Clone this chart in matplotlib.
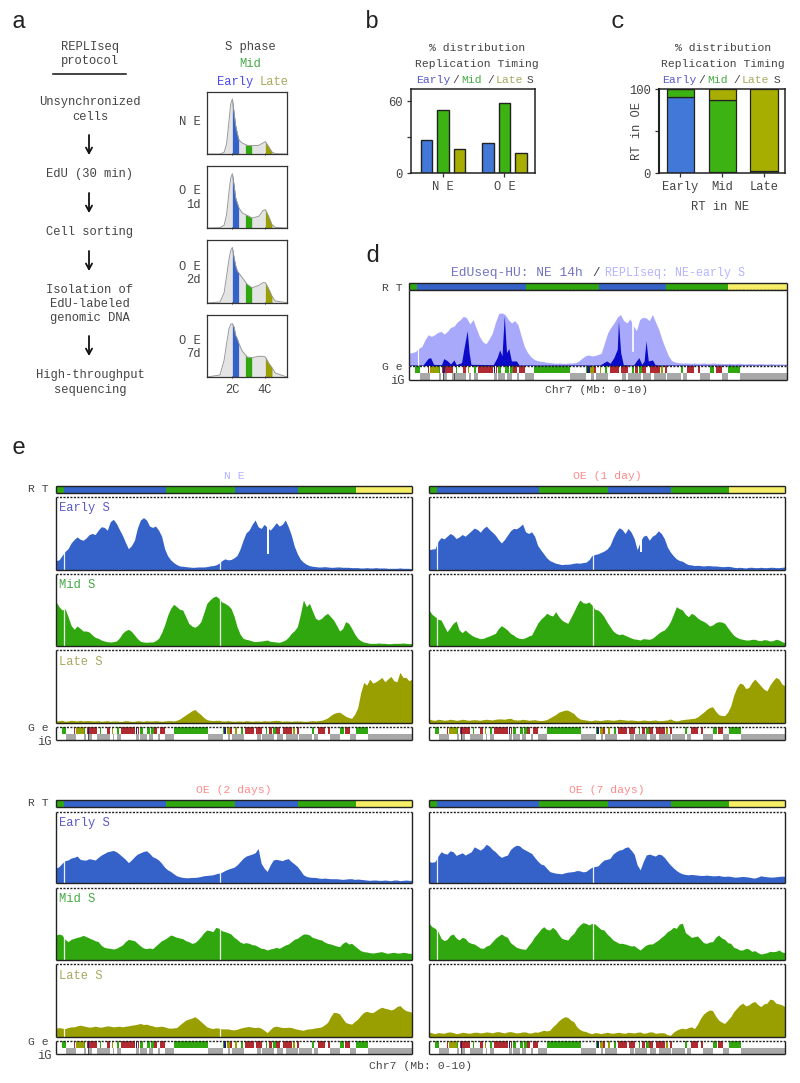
import numpy as np
import matplotlib
matplotlib.use("Agg")
import matplotlib.pyplot as plt

plt.rcParams['font.family'] = ['Liberation Mono', 'DejaVu Sans Mono']

# ---------- colours ----------
BLUE, GREEN, OLIVE, YELLOW, RED, GRAY = '#3562c8', '#30a70f', '#9a9f00', '#f5ee66', '#b02a30', '#a8a8a8'
TXT = '#444444'
T_EARLY, T_MID, T_LATE = '#5a5ac8', '#44aa44', '#a8a860'
T_NE, T_OE = '#b4b4ff', '#ff8a8a'

# ---------- panel a: DNA content histograms ----------
DNA = [0.47, 1.25, 1.5, 1.65, 1.8, 1.9, 2.0, 2.1, 2.2, 2.3, 2.4, 2.6, 2.9, 3.2, 3.6, 3.85, 4.0, 4.2, 4.4, 4.6, 5.31]
HIST_NE = [0, 0, 5, 30, 100, 150, 165, 125, 85, 62, 42, 33, 26, 25, 26, 33, 37, 22, 6, 1, 0]
HIST_OE1 = [0, 1, 8, 40, 110, 150, 163, 130, 90, 75, 60, 45, 38, 30, 35, 52, 55, 35, 10, 2, 0]
HIST_OE2 = [0, 3, 30, 80, 130, 155, 164, 135, 110, 95, 88, 75, 55, 45, 52, 60, 60, 42, 20, 6, 1]
HIST_OE7 = [0, 6, 50, 100, 145, 158, 160, 150, 125, 115, 100, 78, 60, 58, 62, 62, 60, 42, 28, 12, 0]
HIST_LABELS = [['N E'], ['O E', '1d'], ['O E', '2d'], ['O E', '7d']]
GATE_EARLY, GATE_MID, GATE_LATE = (2.0, 2.38), (2.79, 3.17), (4.0, 4.4)

# ---------- panel b / c ----------
B_GROUPS = ['N E', 'O E']
B_EARLY = [27.6, 25.4]
B_MID = [52.5, 58]
B_LATE = [19.6, 16.3]
C_CATS = ['Early', 'Mid', 'Late']
C_BLUE = [90.5, 1, 0]
C_GREEN = [9.5, 86, 2.5]
C_OLIVE = [0, 13, 97.5]

# ---------- tracks: samples over 0-10 Mb, and the samples read half-way between them ----------
NE_E = [28,43,63,90,91,95,108,118,126,143,138,103,63,88,148,148,126,118,63,30,16,11,9,8,9,10,13,20,33,31,43,88,118,148,123,126,128,130,148,103,48,23,13,10,9,9,8,9,8,7,7,6,6,7,6,5,5,6,5,4]
NE_E2 = [30,55,80,98,88,105,105,128,118,150,120,82,72,125,155,130,130,100,42,22,12,10,8,9,9,12,15,28,30,36,62,110,135,128,135,118,140,135,128,70,32,17,11,9,10,8,9,8,8,7,6,7,6,6,6,5,5,5,5]
NE_M = [133,108,88,50,53,45,33,23,15,12,15,38,50,33,14,11,12,23,63,113,118,108,68,56,73,128,146,143,128,113,58,23,18,13,15,18,13,11,18,38,58,138,128,83,83,98,78,45,73,53,23,12,8,8,8,7,8,8,8,8]
NE_M2 = [118,112,62,60,45,42,26,18,13,13,24,46,44,22,12,12,16,40,92,125,110,88,60,62,100,138,150,132,122,90,36,20,15,14,16,14,12,14,26,46,95,118,105,78,92,88,62,52,68,36,16,10,8,9,8,7,8,9,7]
NE_L = [6,8,6,7,8,7,6,7,6,5,6,5,6,5,6,7,6,6,6,7,8,18,30,40,25,10,7,8,6,6,6,5,6,6,5,6,7,7,6,5,6,5,6,6,8,15,28,32,20,14,45,120,130,122,135,130,125,150,135,130]
NE_L2 = [7,5,8,6,6,7,6,5,7,6,5,7,5,7,5,6,7,5,7,6,12,24,36,32,16,8,8,6,7,5,6,7,5,6,7,6,8,5,6,6,6,5,7,7,11,22,31,26,16,26,90,112,118,128,122,138,122,135,125]
O1_E = [60,63,96,100,103,98,100,116,120,123,120,103,80,103,123,128,113,113,73,48,28,20,16,17,20,20,23,43,48,56,73,113,120,123,93,83,103,100,116,93,53,33,26,16,13,13,13,12,11,10,10,7,7,8,7,8,7,8,7,9]
O1_E2 = [62,85,92,108,93,105,108,124,112,130,112,90,90,116,122,136,108,100,60,36,24,18,17,18,21,22,30,46,52,62,95,125,108,112,60,100,88,105,108,68,42,28,20,15,14,12,13,12,10,11,8,8,6,8,7,7,8,7,8]
O1_M = [108,88,78,43,68,48,48,33,25,23,30,38,61,48,33,23,25,33,68,88,93,103,78,68,103,138,128,123,108,88,58,38,36,28,21,18,21,23,38,48,73,118,108,88,93,78,68,63,73,68,43,26,20,18,20,16,18,16,18,10]
O1_M2 = [95,80,60,55,75,40,40,28,22,27,34,52,55,38,26,22,30,50,80,98,90,88,72,85,122,130,132,110,100,72,45,34,32,24,20,22,20,30,44,58,95,112,95,98,84,74,60,70,72,55,32,22,18,20,17,19,15,20,13]
O1_L = [12,8,10,9,10,9,10,9,9,10,10,11,12,13,10,9,10,9,8,8,15,25,35,38,28,12,9,7,8,9,9,9,10,8,8,7,8,8,7,8,12,6,10,12,14,25,40,48,25,22,50,105,115,105,130,110,95,125,130,110]
O1_L2 = [9,11,8,11,8,11,8,10,8,11,9,12,11,14,9,11,8,10,7,10,20,32,38,33,18,10,7,9,7,10,8,11,9,9,7,9,7,9,7,9,8,8,11,13,18,32,46,35,22,32,82,118,102,120,120,100,112,135,115]
O2_E = [45,60,70,78,72,70,72,78,90,97,95,80,62,80,92,98,80,70,48,35,22,17,16,17,20,23,25,30,38,45,55,75,85,92,60,35,70,70,72,65,50,25,18,17,14,14,13,12,12,13,12,10,8,9,8,8,9,7,9,8]
O2_E2 = [50,68,76,82,70,74,70,85,95,99,88,72,70,88,96,90,76,60,40,28,19,16,17,18,22,24,28,33,42,48,65,82,88,105,45,55,72,68,74,58,38,20,17,15,15,13,13,11,13,11,11,9,9,8,9,7,9,8,8]
O2_M = [75,75,55,65,70,70,62,55,38,35,35,45,62,58,42,34,34,50,62,75,68,64,55,52,70,90,85,95,85,78,62,50,50,45,35,30,35,35,45,55,65,78,75,65,60,50,45,40,55,50,35,25,22,22,25,20,23,21,22,20]
O2_M2 = [78,62,62,68,74,66,58,44,36,33,40,55,60,50,36,36,42,58,68,72,66,58,50,60,82,88,98,88,82,68,54,52,46,40,34,33,38,40,48,62,72,78,68,62,54,48,42,50,48,42,28,24,21,24,22,22,21,23,20]
O2_L = [26,26,28,30,35,31,30,30,31,32,31,30,33,36,40,38,33,31,30,26,28,43,53,60,46,30,25,26,24,22,23,28,31,28,26,13,30,30,28,28,23,20,24,27,30,43,73,68,43,38,53,73,73,78,88,83,83,93,78,73]
O2_L2 = [28,25,30,33,33,29,32,29,33,30,32,32,35,38,37,35,30,32,27,27,36,50,56,54,38,27,27,24,24,21,26,30,29,29,20,22,32,28,29,25,21,23,25,28,36,60,72,55,40,46,64,76,72,84,85,80,90,84,76]
O7_E = [65,65,95,88,95,88,85,95,105,107,112,95,78,85,110,113,100,90,67,55,35,30,28,33,35,37,35,48,52,70,75,95,102,110,88,40,85,85,88,78,55,38,28,25,25,23,24,22,23,20,20,18,20,18,15,22,19,18,20,20]
O7_E2 = [63,82,90,98,84,92,90,110,100,118,102,85,82,102,115,105,95,78,58,45,32,29,31,34,38,34,42,50,62,72,88,100,108,100,55,65,88,82,86,66,46,32,26,26,24,23,23,22,21,21,18,19,19,16,18,20,18,19,21]
O7_M = [110,95,65,62,78,60,65,50,42,35,45,65,78,68,45,35,32,55,80,100,90,90,65,60,80,105,110,110,100,90,70,55,50,45,43,30,45,48,60,75,90,95,110,75,70,62,50,55,75,62,50,35,30,33,28,18,22,25,30,22]
O7_M2 = [100,85,58,74,66,68,54,48,36,42,55,72,72,52,38,33,44,70,92,92,98,76,62,72,95,112,105,108,92,78,60,50,48,42,36,38,48,54,68,85,98,108,82,68,72,52,54,68,66,52,38,30,35,26,22,20,26,26,24]
O7_L = [15,10,12,14,13,11,13,12,14,13,14,15,14,15,14,13,15,12,14,20,20,38,55,58,45,22,16,10,12,12,12,13,12,14,12,15,12,15,12,12,5,20,26,28,25,55,75,78,50,40,60,85,100,95,105,90,100,110,98,90]
O7_L2 = [12,13,11,15,10,14,11,14,12,15,12,16,12,16,12,15,12,15,17,18,30,48,60,50,30,18,12,13,10,14,11,14,11,13,14,11,15,11,13,7,14,24,24,30,38,68,80,62,44,50,75,95,92,102,96,98,112,100,95]
D_LIGHT = [38,43,58,93,93,103,103,118,138,143,138,88,66,98,156,153,128,123,58,28,16,13,10,8,8,9,10,23,33,31,38,98,128,153,128,120,138,143,153,108,53,16,10,9,8,8,9,8,8,7,8,7,7,7,6,7,6,6,6,6]
D_LIGHT2 = [40,52,78,88,100,95,115,130,148,125,112,72,80,130,158,138,135,90,40,20,14,11,9,9,8,9,15,30,30,34,68,115,145,135,140,105,145,135,130,78,30,12,9,9,9,8,8,9,8,7,7,8,6,7,7,6,7,6,6]
D_DARK_X = [0,.37,.50,.57,.65,.86,.92,1.01,1.10,1.19,1.25,1.39,1.45,1.54,1.59,1.64,2.23,2.33,2.40,2.46,2.52,2.58,2.64,2.71,2.84,2.91,5.05,5.23,5.32,5.42,5.51,5.54,5.60,5.67,5.94,6.08,6.16,6.22,6.27,6.33,6.44,6.51,6.64,10]
D_DARK_Y = [3,3,22,25,5,4,22,16,6,18,4,10,50,105,40,5,4,25,48,30,150,40,52,15,15,3,3,15,8,25,50,135,40,4,3,25,5,15,75,15,18,4,3,2]

# RT domains (Mb) and genes / intergenic (Mb)
RT_EDGES = [0, 0.22, 3.09, 5.02, 6.79, 8.44, 10]
RT_COLORS = [GREEN, BLUE, GREEN, BLUE, GREEN, YELLOW]
G_GREEN = [(.17,.28),(.79,.82),(1.24,1.26),(1.71,1.76),(2.36,2.44),(2.55,2.64),(2.66,2.74),(3.32,4.27),(4.69,4.76),(5.19,5.25),(5.89,5.94),(6.09,6.17),(7.19,7.25),(7.97,8.08),(8.43,8.75)]
G_OLIVE = [(.56,.79),(1.56,1.59),(4.80,4.89),(5.04,5.08),(6.67,6.71)]
G_RED = [(.51,.53),(.88,1.16),(1.44,1.52),(1.82,2.23),(2.29,2.34),(2.74,2.85),(2.92,3.06),(4.89,4.95),(5.31,5.55),(5.61,5.79),(5.98,6.06),(6.17,6.28),(6.37,6.63),(6.77,6.83),(7.36,7.55),(7.64,7.71),(8.12,8.27)]
G_NAVY = [(.91,.94),(2.25,2.28),(4.72,4.78)]
IG_GRAY = [(.28,.56),(.80,.84),(.89,1.01),(1.14,1.52),(1.59,1.63),(1.72,1.82),(2.26,2.32),(2.36,2.55),(2.60,2.72),(2.87,2.91),(3.06,3.32),(4.27,4.69),(4.82,4.89),(4.95,5.27),(5.64,5.75),(5.79,6.13),(6.20,6.39),(6.47,6.81),(6.83,7.19),(7.25,7.36),(7.71,7.97),(8.27,8.43),(8.75,10)]
IG_DARK = [(.90,.93),(1.20,1.22)]

MB = np.linspace(0, 10, 119)


def weave(a, b):
    out = np.zeros(len(a) + len(b))
    out[0::2] = a
    out[1::2] = b
    return out


W, H = 800, 1083
fig = plt.figure(figsize=(W / 100, H / 100), dpi=100, facecolor='white')


def axpx(x0, y0, x1, y1, **kw):
    return fig.add_axes([x0 / W, 1 - y1 / H, (x1 - x0) / W, (y1 - y0) / H], **kw)


ov = axpx(0, 0, W, H, zorder=10)
ov.set_xlim(0, W)
ov.set_ylim(H, 0)
ov.axis('off')


def T(x, y, s, size=8.7, color=TXT, ha='center', **kw):
    ov.text(x, y, s, fontsize=size, color=color, ha=ha, va='center', **kw)


for s, x, y in [('a', 19, 22), ('b', 372, 22), ('c', 618, 22), ('d', 372, 255), ('e', 19, 447)]:
    T(x, y, s, size=17, color='#222222')

# ---------- panel a text ----------
for s, y in [('REPLIseq', 47), ('protocol', 61), ('Unsynchronized', 102), ('cells', 117), ('EdU (30 min)', 174),
             ('Cell sorting', 232), ('Isolation of', 290), ('EdU-labeled', 304), ('genomic DNA', 318),
             ('High-throughput', 375), ('sequencing', 390)]:
    T(90, y, s)
ov.plot([53, 126], [74, 74], color='#111111', lw=1.1)
for y0, y1 in [(135, 155), (193, 213), (251, 271), (336, 356)]:
    ov.annotate('', xy=(89, y1), xytext=(89, y0),
                arrowprops=dict(arrowstyle='->,head_width=0.22,head_length=0.4', color='#111111', lw=1.3,
                                shrinkA=0, shrinkB=0))
T(250, 47, 'S phase')
T(250, 64, 'Mid', color=T_MID)
T(235, 82, 'Early', color='#4a4af0')
T(274, 82, 'Late', color=T_LATE)

HIST_BOX = [(92, 154), (166, 228), (240, 303), (315, 377)]
HIST_Y = [HIST_NE, HIST_OE1, HIST_OE2, HIST_OE7]
LABEL_Y = [[122], [191, 205], [267, 280], [341, 354]]
for (y0, y1), vals, labs, ys in zip(HIST_BOX, HIST_Y, HIST_LABELS, LABEL_Y):
    a = axpx(207, y0, 287, y1)
    a.set_xlim(0.465, 5.31)
    a.set_ylim(0, 186)
    a.fill_between(DNA, vals, color='#e4e4e4', lw=0)
    for (g0, g1), c in zip((GATE_EARLY, GATE_MID, GATE_LATE), (BLUE, GREEN, OLIVE)):
        xx = np.linspace(g0, g1, 12)
        a.fill_between(xx, np.interp(xx, DNA, vals), color=c, lw=0)
    a.plot(DNA, vals, color='#999999', lw=0.7)
    a.set_yticks([])
    a.set_xticks([2, 4])
    a.set_xticklabels([])
    a.tick_params(axis='x', length=2, width=0.7, color='#333333', direction='inout')
    for sp in a.spines.values():
        sp.set_color('#333333')
        sp.set_linewidth(0.9)
    for s, y in zip(labs, ys):
        T(201, y, s, ha='right')
T(232, 390, '2C')
T(265, 390, '4C')


def title3(x_list, y):
    for (x, s, c) in x_list:
        T(x, y, s, size=8.2, color=c)


# ---------- panel b ----------
T(477, 48, '% distribution', size=8.2)
T(477, 64, 'Replication Timing', size=8.2)
title3([(433, 'Early', T_EARLY), (456, '/', TXT), (472, 'Mid', T_MID), (491, '/', TXT), (509, 'Late', T_LATE), (530, 'S', TXT)], 80)
b = axpx(411, 89, 535, 173)
b.set_xlim(-0.52, 1.497)
b.set_ylim(0, 70)
xg = np.arange(len(B_GROUPS))
for off, v, c in [(-0.27, B_EARLY, '#4278d8'), (0, B_MID, '#3cb312'), (0.27, B_LATE, '#a8ae00')]:
    b.bar(xg + off, v, width=0.19, color=c, edgecolor='#222222', linewidth=1.0)
b.set_yticks([0, 30, 60])
b.set_yticklabels(['0', '', '60'], fontsize=8.7, color=TXT)
b.set_xticks(xg)
b.set_xticklabels(B_GROUPS, fontsize=8.7, color=TXT)
b.tick_params(length=3, width=0.9, pad=3, color='#333333')
for sp in b.spines.values():
    sp.set_linewidth(1.1)
    sp.set_color('#222222')

# ---------- panel c ----------
T(723, 48, '% distribution', size=8.2)
T(723, 64, 'Replication Timing', size=8.2)
title3([(679, 'Early', T_EARLY), (702, '/', TXT), (718, 'Mid', T_MID), (737, '/', TXT), (755, 'Late', T_LATE), (777, 'S', TXT)], 80)
c = axpx(659, 89, 785, 173)
c.set_xlim(-0.512, 2.504)
c.set_ylim(0, 100)
xc = np.arange(len(C_CATS))
bot = np.zeros(3)
for v, col in [(C_BLUE, '#4278d8'), (C_GREEN, '#3cb312'), (C_OLIVE, '#a8ae00')]:
    c.bar(xc, v, bottom=bot, width=0.65, color=col, edgecolor='#222222', linewidth=0.9)
    bot = bot + np.array(v)
c.set_yticks([0, 50, 100])
c.set_yticklabels(['0', '', '100'], fontsize=8.7, color=TXT)
c.set_xticks(xc)
c.set_xticklabels(C_CATS, fontsize=8.7, color=TXT)
c.tick_params(length=3, width=0.9, pad=3, color='#333333')
for sp in c.spines.values():
    sp.set_linewidth(1.1)
    sp.set_color('#222222')
c.spines['left'].set_linewidth(1.5)
T(637, 131, 'RT in OE', rotation=90)
T(720, 207, 'RT in NE')


# ---------- tracks ----------
def frame(a, dashed_top=True, dashed_bottom=False):
    a.set_xticks([])
    a.set_yticks([])
    for sp in a.spines.values():
        sp.set_linewidth(1.0)
        sp.set_color('#222222')
        sp.set_capstyle('butt')
    if dashed_top:
        a.spines['top'].set_linestyle((0, (1.5, 1)))
    if dashed_bottom:
        a.spines['bottom'].set_linestyle((0, (1.5, 1)))


def rt_bar(x0, y0, x1, y1, dashed_bottom=False):
    a = axpx(x0, y0, x1, y1)
    a.set_xlim(0, 10)
    a.set_ylim(0, 1)
    for i, col in enumerate(RT_COLORS):
        a.barh(0.5, RT_EDGES[i + 1] - RT_EDGES[i], left=RT_EDGES[i], height=1, color=col, lw=0)
    frame(a, dashed_top=False, dashed_bottom=dashed_bottom)


def gene_track(x0, y0, x1, y1):
    a = axpx(x0, y0, x1, y1)
    a.set_xlim(0, 10)
    a.set_ylim(0, 2)
    for lst, col in [(G_GREEN, GREEN), (G_OLIVE, OLIVE), (G_RED, RED), (G_NAVY, '#20207a')]:
        a.broken_barh([(s, e - s) for s, e in lst], (1, 1), color=col, lw=0)
    a.broken_barh([(s, e - s) for s, e in IG_GRAY], (0, 1), color=GRAY, lw=0)
    a.broken_barh([(s, e - s) for s, e in IG_DARK], (0, 1), color='#555555', lw=0)
    frame(a, dashed_top=True)


def signal(x0, y0, x1, y1, vals, col, gaps=(0.23, 4.6), notch=None):
    a = axpx(x0, y0, x1, y1)
    a.set_xlim(0, 10)
    a.set_ylim(0, 216)
    a.fill_between(MB, vals, color=col, lw=0)
    for g in gaps:
        a.axvline(g, color='white', lw=0.9, alpha=0.9)
    if notch:
        a.plot([notch[0], notch[0]], [notch[1], 216], color='white', lw=1.4)
    frame(a, dashed_top=True)
    return a


COLS = [(56, 412), (429, 785)]
ROWS = [
    dict(rt=(486, 493), e=(497, 570), m=(574, 646), l=(650, 723), g=(727, 740)),
    dict(rt=(800, 807), e=(812, 883), m=(888, 960), l=(964, 1037), g=(1041, 1054)),
]
PANELS = [
    (0, 0, 'N E', T_NE, weave(NE_E, NE_E2), weave(NE_M, NE_M2), weave(NE_L, NE_L2), (), (5.95, 50)),
    (0, 1, 'OE (1 day)', T_OE, weave(O1_E, O1_E2), weave(O1_M, O1_M2), weave(O1_L, O1_L2), (), (5.95, 55)),
    (1, 0, 'OE (2 days)', T_OE, weave(O2_E, O2_E2), weave(O2_M, O2_M2), weave(O2_L, O2_L2), (0.23, 4.6), (5.95, 80)),
    (1, 1, 'OE (7 days)', T_OE, weave(O7_E, O7_E2), weave(O7_M, O7_M2), weave(O7_L, O7_L2), (), None),
]
for r, cidx, title, tc, e, m, l, late_gaps, notch in PANELS:
    x0, x1 = COLS[cidx]
    R = ROWS[r]
    rt_bar(x0, R['rt'][0], x1, R['rt'][1])
    signal(x0, R['e'][0], x1, R['e'][1], e, BLUE, notch=notch)
    signal(x0, R['m'][0], x1, R['m'][1], m, GREEN)
    signal(x0, R['l'][0], x1, R['l'][1], l, OLIVE, gaps=late_gaps)
    gene_track(x0, R['g'][0], x1, R['g'][1])
    T((x0 + x1) / 2, R['rt'][0] - 10, title, size=8.2, color=tc)
    if cidx == 0:
        T(49, R['rt'][0] + 3, 'R T', size=8.2, ha='right')
        T(49, R['g'][0] + 1, 'G e', size=8.2, ha='right')
        T(52, R['g'][1] + 2, 'iG', size=8.7, ha='right')
        T(59, R['e'][0] + 11, 'Early S', ha='left', color=T_EARLY)
        T(59, R['m'][0] + 11, 'Mid S', ha='left', color=T_MID)
        T(59, R['l'][0] + 12, 'Late S', ha='left', color=T_LATE)
T(421, 1066, 'Chr7 (Mb: 0-10)', size=8.2)

# ---------- panel d ----------
T(517, 273, 'EdUseq-HU: NE 14h', size=9.4, color='#7474c0')
T(596, 273, '/', size=9)
T(675, 273, 'REPLIseq: NE-early S', size=8.4, color=T_NE)
rt_bar(409, 283, 787, 290, dashed_bottom=True)
d = axpx(409, 290, 787, 366)
d.set_xlim(0, 10)
d.set_ylim(0, 226)
d.fill_between(MB, weave(D_LIGHT, D_LIGHT2), color='#a9a9fb', lw=0)
d.axvline(0.24, color='white', lw=0.8)
d.plot([5.93, 5.93], [45, 226], color='white', lw=1.2)
d.fill_between(D_DARK_X, D_DARK_Y, color='#0a0ac8', lw=0)
frame(d, dashed_top=False, dashed_bottom=True)
gene_track(409, 366, 787, 380)
T(403, 288, 'R T', size=8.2, ha='right')
T(403, 367, 'G e', size=8.2, ha='right')
T(405, 381, 'iG', ha='right')
T(597, 390, 'Chr7 (Mb: 0-10)', size=8.2)

fig.savefig('out.png', dpi=100)
